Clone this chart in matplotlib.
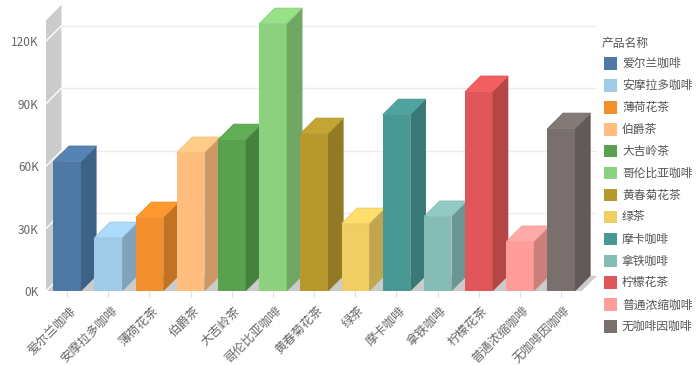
import matplotlib
matplotlib.use("Agg")
import matplotlib.pyplot as plt
from matplotlib.patches import Polygon, Rectangle
from matplotlib.transforms import ScaledTranslation
import matplotlib.colors as mcolors
import numpy as np

plt.rcParams['font.family'] = ['Noto Sans CJK SC', 'DejaVu Sans']

categories = ["爱尔兰咖啡", "安摩拉多咖啡", "薄荷花茶", "伯爵茶", "大吉岭茶", "哥伦比亚咖啡",
              "黄春菊花茶", "绿茶", "摩卡咖啡", "拿铁咖啡", "柠檬花茶", "普通浓缩咖啡", "无咖啡因咖啡"]
values = [62300, 25800, 35400, 66600, 72800, 128500, 75700, 32500, 84800, 35900, 95900, 23900, 78100]
colors = ["#4E79A7", "#A0CBE8", "#F28E2B", "#FFBE7D", "#59A14F", "#8CD17D", "#B6992D",
          "#F1CE63", "#499894", "#86BCB6", "#E15759", "#FF9D9A", "#79706E"]
ytick_vals = [0, 30000, 60000, 90000, 120000]
ytick_labels = ["0K", "30K", "60K", "90K", "120K"]
legend_title = "产品名称"

W, H = 700, 365
fig = plt.figure(figsize=(W / 100, H / 100), dpi=100)

# axes geometry (pixels)
px_left, px_right = 45.7, 597.0
px_zero = 291.4
ymax = 138000
px_per_val = 62.5 / 30000
px_top = px_zero - ymax * px_per_val
ax = fig.add_axes([px_left / W, (H - px_zero) / H, (px_right - px_left) / W, (px_zero - px_top) / H])
ax.set_xlim(-0.52, 12.87)
ax.set_ylim(0, ymax)
for s in ax.spines.values():
    s.set_visible(False)

DX = 0.381
DY = 7500
X0 = -0.52
X1 = 12.87 - DX
WALL_TOP = 130000
wall_col = "#cbcbcb"

# floor
ax.add_patch(Polygon([(X0, 0), (X1, 0), (X1 + DX, DY), (X0 + DX, DY)], closed=True,
                     facecolor=wall_col, edgecolor="none", zorder=1))
# left wall
ax.add_patch(Polygon([(X0, 0), (X0 + DX, DY), (X0 + DX, WALL_TOP + DY), (X0, WALL_TOP)], closed=True,
                     facecolor=wall_col, edgecolor="none", zorder=1))
# grid lines
for v in ytick_vals[1:]:
    ax.plot([X0 + DX, X1 + DX], [v + DY, v + DY], color="#ececec", lw=1, zorder=0.5)
for v in ytick_vals:
    ax.plot([X0, X0 + DX], [v, v + DY], color="white", lw=1, zorder=1.5)
ax.plot([X0 + DX, X0 + DX], [DY, WALL_TOP + DY], color="#e6e6e6", lw=0.8, zorder=1.4)

BW = 0.67

def shade(c, f):
    r = np.array(mcolors.to_rgb(c)) * f
    return tuple(np.clip(r, 0, 1))

for i, (v, c) in enumerate(zip(values, colors)):
    z = 3 + i * 0.1
    ax.bar([i], [v], width=BW, color=c, edgecolor="none", zorder=z)
    xr = i + BW / 2
    xl = i - BW / 2
    ax.add_patch(Polygon([(xr, 0), (xr + DX, DY), (xr + DX, v + DY), (xr, v)], closed=True,
                         facecolor=shade(c, 0.8), edgecolor="none", zorder=z))
    ax.add_patch(Polygon([(xl, v), (xr, v), (xr + DX, v + DY), (xl + DX, v + DY)], closed=True,
                         facecolor=shade(c, 1.08), edgecolor=shade(c, 0.95), lw=0.5, zorder=z))

ax.set_yticks(ytick_vals)
ax.set_yticklabels(ytick_labels)
ax.tick_params(axis='y', length=0, pad=5, labelsize=8.5, labelcolor="#666666")
ax.set_xticks(range(len(categories)))
ax.set_xticklabels(categories, rotation=45, ha='right', rotation_mode='anchor')
ax.tick_params(axis='x', length=4, width=0.8, color="#e0e0e0", pad=5, labelsize=8.9, labelcolor="#666666")
off = ScaledTranslation(1.5 / 72, 0, fig.dpi_scale_trans)
for lab in ax.get_xticklabels():
    lab.set_transform(lab.get_transform() + off)

# legend
fig.text(601.5 / W, 1 - 43.5 / H, legend_title, fontsize=8.5, color="#555555", va='center', ha='left')
for i, (name, c) in enumerate(zip(categories, colors)):
    cy = 63.3 + i * 21.95
    fig.add_artist(Rectangle((604 / W, 1 - (cy + 6.35) / H), 12.7 / W, 12.7 / H,
                             transform=fig.transFigure, facecolor=c, edgecolor="none"))
    fig.text(622 / W, 1 - cy / H, name, fontsize=8.5, color="#555555", va='center', ha='left')

fig.savefig("out.png", dpi=100)
